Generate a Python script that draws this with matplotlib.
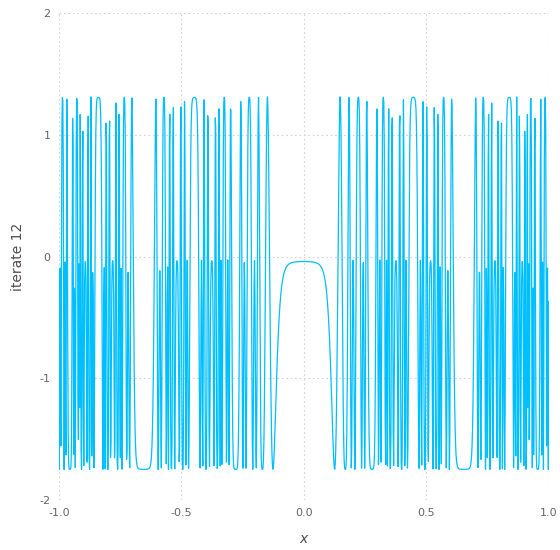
import numpy as np
import matplotlib.pyplot as plt

# quadratic map f(x) = x^2 + c, plotted after 12 iterations
c = -1.75
n_iter = 12
x_min, x_max = -1.0, 1.0
n_samples = 1100

xticks = [-1.0, -0.5, 0.0, 0.5, 1.0]
xtick_labels = ["-1.0", "-0.5", "0.0", "0.5", "1.0"]
yticks = [-2, -1, 0, 1, 2]
ytick_labels = ["-2", "-1", "0", "1", "2"]

x = np.linspace(x_min, x_max, n_samples)
y = x.copy()
for _ in range(n_iter):
    y = y * y + c

fig = plt.figure(figsize=(5.6, 5.5), dpi=100)
ax = fig.add_axes([0.105, 0.091, 0.875, 0.885])

ax.plot(x, y, color="#00BFFF", linewidth=0.9)

ax.set_xlim(x_min, x_max)
ax.set_ylim(-2, 2)
ax.set_xticks(xticks)
ax.set_xticklabels(xtick_labels)
ax.set_yticks(yticks)
ax.set_yticklabels(ytick_labels)

for s in ax.spines.values():
    s.set_visible(False)
ax.tick_params(length=0, labelsize=8, labelcolor="#6c606b", pad=6)
ax.grid(True, color="#D0D0E0", linestyle=(0, (1.5, 2.5)), linewidth=0.8)
ax.set_axisbelow(True)

ax.set_xlabel("x", fontsize=10, style="italic", color="#564a55", labelpad=10)
ax.set_ylabel("iterate 12", fontsize=10, color="#564a55", labelpad=10)

fig.savefig("out.png", dpi=100)
